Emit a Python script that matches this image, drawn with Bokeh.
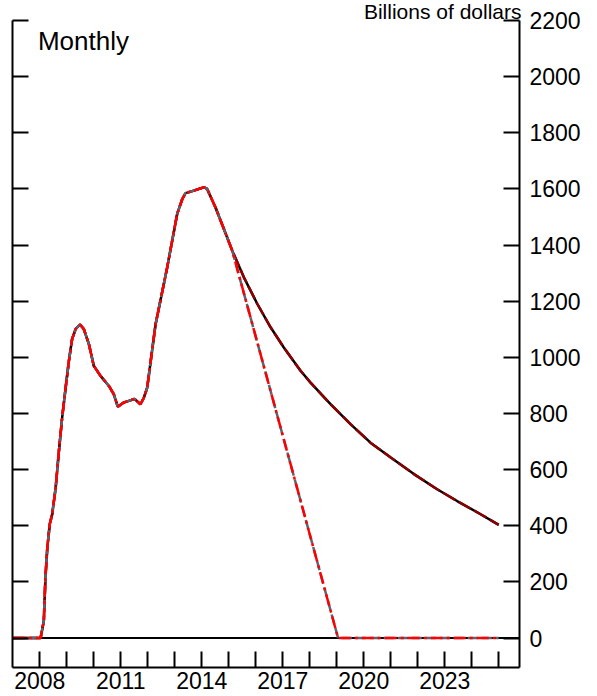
from bokeh.plotting import figure
from bokeh.models import Range1d, LinearAxis, FixedTicker, Span, Label, CustomJSTickFormatter
from bokeh.embed import file_html
from bokeh.resources import INLINE

# Shared history of holdings (decimal year, billions of dollars)
hist_years = [2007.0, 2008.03, 2008.15, 2008.21, 2008.28, 2008.37, 2008.46, 2008.59, 2008.71,
              2008.83, 2008.96, 2009.08, 2009.20, 2009.33, 2009.49, 2009.63, 2009.82, 2010.0,
              2010.25, 2010.56, 2010.74, 2010.89, 2011.11, 2011.30, 2011.51, 2011.67, 2011.73,
              2011.86, 2011.98, 2012.29, 2012.72, 2013.09, 2013.28, 2013.40, 2013.71, 2014.08,
              2014.20, 2014.51, 2014.82, 2015.13]
hist_values = [0, 0, 61, 215, 322, 406, 441, 536, 667,
               786, 893, 988, 1066, 1101, 1117, 1101, 1047, 970,
               934, 898, 869, 824, 839, 845, 852, 838, 833,
               857, 892, 1118, 1320, 1511, 1564, 1585, 1594, 1606,
               1600, 1534, 1457, 1380]

# Runoff path: gradual decline
runoff_years = [2015.56, 2016.06, 2016.55, 2017.04, 2017.66, 2018.03, 2018.77, 2019.51,
                2020.25, 2021.0, 2021.86, 2022.72, 2023.46, 2024.33, 2025.0]
runoff_values = [1285, 1190, 1107, 1035, 952, 910, 833, 762,
                 696, 643, 584, 530, 488, 441, 403]

# Sales path: straight-line decline to zero
sales_years = [2019.05, 2025.0]
sales_values = [0, 0]

y_ticks = [0, 200, 400, 600, 800, 1000, 1200, 1400, 1600, 1800, 2000, 2200]
x_ticks = list(range(2008, 2026))

FONT = "Liberation Sans"

p = figure(width=597, height=696, output_backend="svg", toolbar_location=None,
           x_range=Range1d(2006.99, 2025.77), y_range=Range1d(-105, 2200),
           y_axis_location="right", title="Billions of dollars",
           min_border_left=12, min_border_right=78, min_border_top=20, min_border_bottom=29)
p.outline_line_color = None
p.xgrid.visible = False
p.ygrid.visible = False

# Units caption sits in the title slot, flush right above the frame
p.title.align = "right"
p.title.text_font = FONT
p.title.text_font_size = "21px"
p.title.text_font_style = "normal"
p.title.text_color = "black"
p.title.standoff = -5
p.title.offset = -2

right_axis = p.right[0]
left_axis = LinearAxis(major_label_standoff=0)
p.add_layout(left_axis, "left")
x_axis = p.below[0]

for ax in (left_axis, right_axis, x_axis):
    ax.axis_line_width = 2
    ax.axis_line_color = "black"
    ax.major_tick_line_width = 2
    ax.major_tick_line_color = "black"
    ax.major_tick_in = 16
    ax.major_tick_out = 0
    ax.minor_tick_line_color = None
    ax.major_label_text_font = FONT
    ax.major_label_text_color = "black"

left_axis.ticker = FixedTicker(ticks=y_ticks)
left_axis.major_label_text_font_size = "0px"

right_axis.ticker = FixedTicker(ticks=y_ticks)
right_axis.major_label_text_font_size = "23px"
right_axis.major_label_standoff = 10

x_axis.ticker = FixedTicker(ticks=x_ticks)
x_axis.formatter = CustomJSTickFormatter(
    code="const t = Math.round(tick); return (t % 3 == 1) ? String(t) : '';")
x_axis.major_label_text_font_size = "23px"
x_axis.major_label_standoff = 4

p.add_layout(Span(location=0, dimension="width", line_color="black", line_width=2,
                  level="underlay"))

ra_x = hist_years + runoff_years
ra_y = hist_values + runoff_values
sa_x = hist_years + sales_years
sa_y = hist_values + sales_values

p.line(ra_x, ra_y, line_color="black", line_width=2.5)
p.line(ra_x, ra_y, line_color="#8b0000", line_width=2.5, line_dash="14 4")
p.line(sa_x, sa_y, line_color="#5b6675", line_width=2.5, line_dash="10 4")
p.line(sa_x, sa_y, line_color="#ff0000", line_width=2.5, line_dash="12 4 3 4")

p.add_layout(Label(x=2007.93, y=2180, text="Monthly", text_font=FONT,
                   text_font_size="26px", text_baseline="top", text_color="black"))

open("out.html", "w").write(file_html(p, INLINE))
